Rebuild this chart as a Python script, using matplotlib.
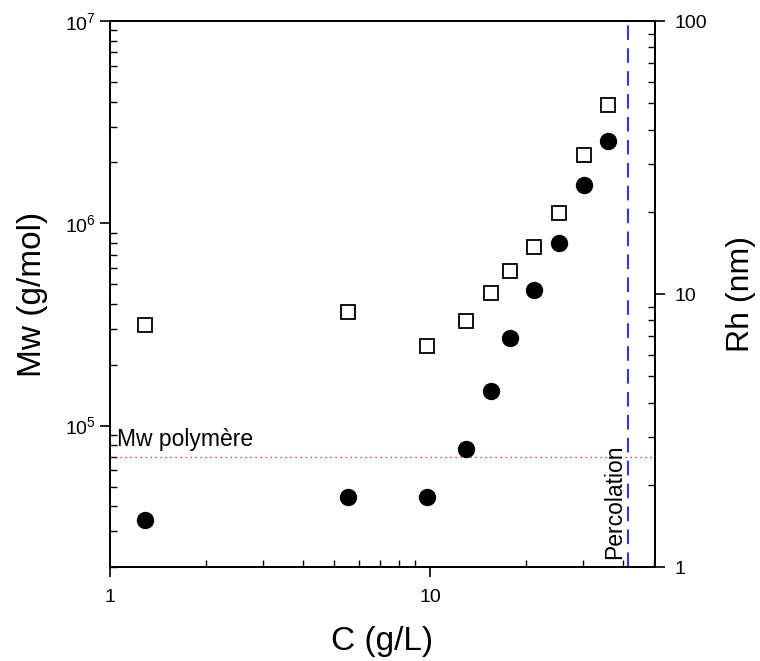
import matplotlib
matplotlib.use("Agg")
import matplotlib.pyplot as plt
from matplotlib.ticker import LogLocator, LogFormatterSciNotation, FuncFormatter, NullFormatter

plt.rcParams['font.family'] = ['Liberation Sans', 'DejaVu Sans']
plt.rcParams['mathtext.fontset'] = 'custom'
plt.rcParams['mathtext.rm'] = 'Liberation Sans'

# données
C = [1.29, 5.54, 9.79, 12.95, 15.5, 17.8, 21.1, 25.4, 30.2, 35.9]
Mw = [34300, 44600, 44600, 76900, 149000, 270000, 470000, 799000, 1.55e6, 2.55e6]
Rh = [7.7, 8.6, 6.45, 7.96, 10.1, 12.1, 14.9, 19.8, 32.3, 49.3]
Mw_polymere = 7.0e4
C_percolation = 41.6

fig = plt.figure(figsize=(7.6, 6.61), dpi=100)
ax = fig.add_axes([0.1447, 0.1422, 0.7171, 0.826])
ax2 = ax.twinx()

ax.plot(C, Mw, 'o', color='black', markersize=11.5, zorder=3)
ax2.plot(C, Rh, 's', markerfacecolor='white', markeredgecolor='black',
         markeredgewidth=1.3, markersize=9.5, zorder=3)

ax.axhline(Mw_polymere, color='red', linestyle=(0, (1, 3)), linewidth=0.9)
ax.axvline(C_percolation, color='#3333ee', linestyle=(0, (7, 4)), linewidth=1.5)
ax.text(1.055, Mw_polymere * 1.07, 'Mw polymère', fontsize=16.5, ha='left', va='bottom')
ax.text(C_percolation * 0.985, 2.2e4, 'Percolation', fontsize=16.5, rotation=90,
        ha='right', va='bottom')

ax.set_xscale('log')
ax.set_yscale('log')
ax2.set_yscale('log')
ax.set_xlim(1, 50.5)
ax.set_ylim(2e4, 1e7)
ax2.set_ylim(1, 100)

ax.xaxis.set_major_formatter(FuncFormatter(lambda v, p: '%g' % v))
ax.yaxis.set_major_formatter(LogFormatterSciNotation())
ax2.yaxis.set_major_formatter(FuncFormatter(lambda v, p: '%g' % v))
for a in (ax.xaxis, ax.yaxis, ax2.yaxis):
    a.set_minor_locator(LogLocator(subs=range(2, 10)))
    a.set_minor_formatter(NullFormatter())

ax.tick_params(which='major', direction='out', length=7, width=1.2, labelsize=14)
ax.tick_params(axis='x', which='major', pad=9)
ax.tick_params(which='minor', direction='in', length=5, width=1.0)
ax2.tick_params(which='major', direction='out', length=7, width=1.2, labelsize=14, pad=7)
ax2.tick_params(which='minor', direction='in', length=5, width=1.0)

for a in (ax, ax2):
    for s in a.spines.values():
        s.set_linewidth(1.4)

ax.set_xlabel('C (g/L)', fontsize=24, labelpad=14)
ax.set_ylabel('Mw (g/mol)', fontsize=24, labelpad=12)
ax2.set_ylabel('Rh (nm)', fontsize=23, labelpad=14)

plt.savefig('out.png', dpi=100)
